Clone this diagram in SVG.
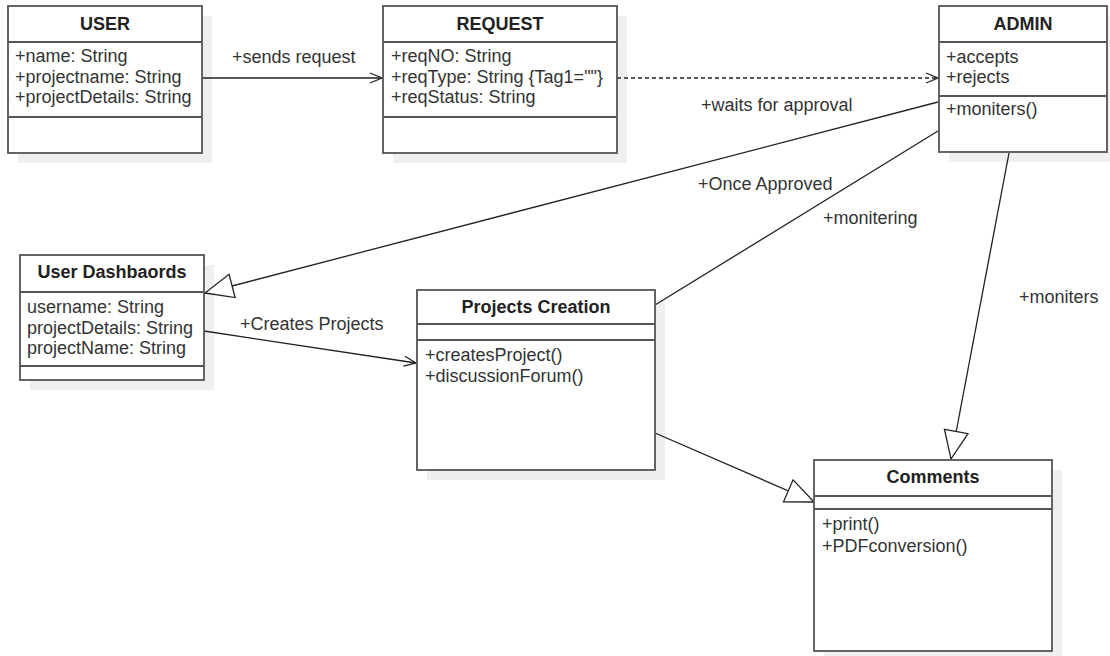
<svg xmlns="http://www.w3.org/2000/svg" width="1110" height="656" viewBox="0 0 1110 656">
<style>
.shadow{fill:#efefef;stroke:none}
.box{fill:#fff;stroke:#555;stroke-width:1.8}
.sep{stroke:#555;stroke-width:1.8}
.title{font-family:"Liberation Sans",Arial,sans-serif;font-size:18px;font-weight:bold;fill:#222;text-anchor:middle}
.txt{font-family:"Liberation Sans",Arial,sans-serif;font-size:18px;fill:#333}
.edge{fill:none;stroke:#222;stroke-width:1.3}
.dash{stroke-dasharray:4 3}
</style>
<defs>
<marker id="open" markerUnits="userSpaceOnUse" markerWidth="30" markerHeight="30" refX="0" refY="0" orient="auto" overflow="visible">
<path d="M-12,-5 L0,0 L-12,5" fill="none" stroke="#222" stroke-width="1.3"/>
</marker>
<marker id="tri" markerUnits="userSpaceOnUse" markerWidth="40" markerHeight="40" refX="0" refY="0" orient="auto" overflow="visible">
<path d="M0,0 L-28,-12 L-28,12 Z" fill="#fff" stroke="#222" stroke-width="1.3"/>
</marker>
</defs>
<g id="shadows">
<rect class="shadow" x="18" y="16" width="194" height="147"/>
<rect class="shadow" x="393" y="16" width="234" height="147"/>
<rect class="shadow" x="949" y="16" width="168" height="146"/>
<rect class="shadow" x="30" y="265" width="184" height="125"/>
<rect class="shadow" x="427" y="300" width="238" height="180"/>
<rect class="shadow" x="824" y="470" width="238" height="191"/>
</g>
<g id="connectors">
<line class="edge" x1="202" y1="78" x2="382" y2="78" marker-end="url(#open)"/>
<line class="edge dash" x1="617" y1="78" x2="938" y2="78" marker-end="url(#open)"/>
<line class="edge" x1="938" y1="102" x2="205" y2="293" marker-end="url(#tri)"/>
<line class="edge" x1="938" y1="131" x2="655" y2="305"/>
<line class="edge" x1="1009" y1="153" x2="951" y2="459" marker-end="url(#tri)"/>
<line class="edge" x1="204" y1="331" x2="416" y2="363" marker-end="url(#open)"/>
<line class="edge" x1="655" y1="433" x2="814" y2="502" marker-end="url(#tri)"/>
<text class="txt" x="232" y="63">+sends request</text>
<text class="txt" x="701" y="111">+waits for approval</text>
<text class="txt" x="698" y="190">+Once Approved</text>
<text class="txt" x="823" y="224">+monitering</text>
<text class="txt" x="1019" y="303">+moniters</text>
<text class="txt" x="240" y="330">+Creates Projects</text>
</g>
<g id="user">
<rect class="box" x="8" y="6" width="194" height="147"/>
<line class="sep" x1="8" y1="42" x2="202" y2="42"/>
<line class="sep" x1="8" y1="117" x2="202" y2="117"/>
<text class="title" x="105" y="30">USER</text>
<text class="txt" x="15" y="62">+name: String</text>
<text class="txt" x="15" y="83">+projectname: String</text>
<text class="txt" x="15" y="103">+projectDetails: String</text>
</g>
<g id="request">
<rect class="box" x="383" y="6" width="234" height="147"/>
<line class="sep" x1="383" y1="42" x2="617" y2="42"/>
<line class="sep" x1="383" y1="117" x2="617" y2="117"/>
<text class="title" x="500" y="30">REQUEST</text>
<text class="txt" x="391" y="62">+reqNO: String</text>
<text class="txt" x="391" y="83">+reqType: String {Tag1=""}</text>
<text class="txt" x="391" y="103">+reqStatus: String</text>
</g>
<g id="admin">
<rect class="box" x="939" y="6" width="168" height="146"/>
<line class="sep" x1="939" y1="42" x2="1107" y2="42"/>
<line class="sep" x1="939" y1="96" x2="1107" y2="96"/>
<text class="title" x="1023" y="30">ADMIN</text>
<text class="txt" x="946" y="63">+accepts</text>
<text class="txt" x="946" y="83">+rejects</text>
<text class="txt" x="946" y="115">+moniters()</text>
</g>
<g id="user-dashboards">
<rect class="box" x="20" y="255" width="184" height="125"/>
<line class="sep" x1="20" y1="292" x2="204" y2="292"/>
<line class="sep" x1="20" y1="366" x2="204" y2="366"/>
<text class="title" x="112" y="278">User Dashbaords</text>
<text class="txt" x="27" y="313">username: String</text>
<text class="txt" x="27" y="334">projectDetails: String</text>
<text class="txt" x="27" y="354">projectName: String</text>
</g>
<g id="projects-creation">
<rect class="box" x="417" y="290" width="238" height="180"/>
<line class="sep" x1="417" y1="324" x2="655" y2="324"/>
<line class="sep" x1="417" y1="340" x2="655" y2="340"/>
<text class="title" x="536" y="313">Projects Creation</text>
<text class="txt" x="425" y="361">+createsProject()</text>
<text class="txt" x="425" y="382">+discussionForum()</text>
</g>
<g id="comments">
<rect class="box" x="814" y="460" width="238" height="191"/>
<line class="sep" x1="814" y1="496" x2="1052" y2="496"/>
<line class="sep" x1="814" y1="509" x2="1052" y2="509"/>
<text class="title" x="933" y="483">Comments</text>
<text class="txt" x="822" y="530">+print()</text>
<text class="txt" x="822" y="552">+PDFconversion()</text>
</g>
</svg>
